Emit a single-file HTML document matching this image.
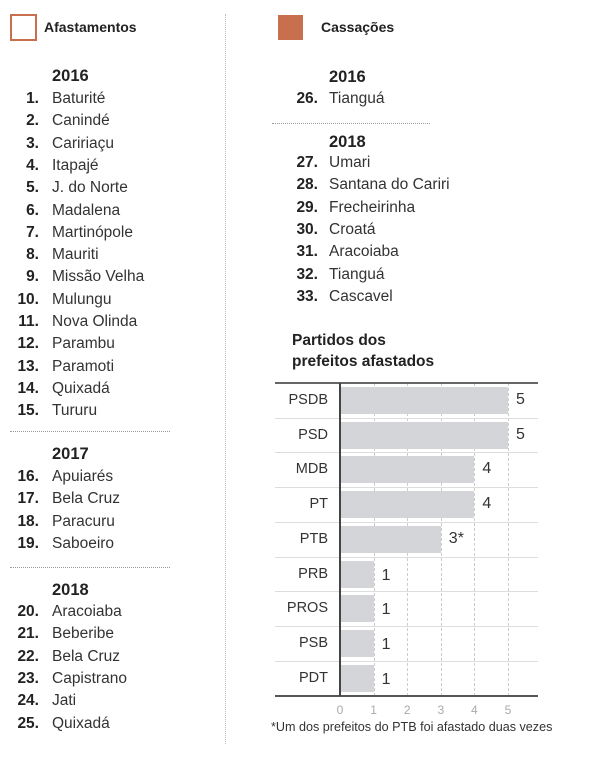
<!DOCTYPE html>
<html><head><meta charset="utf-8"><style>
*{margin:0;padding:0;box-sizing:border-box}
body{width:600px;height:758px;background:#fff;position:relative;font-family:"Liberation Sans",sans-serif;color:#222;overflow:hidden}
.a{position:absolute;white-space:nowrap}
.row{position:absolute;height:22px;line-height:22px;font-size:15.5px;white-space:nowrap;color:#333}
.row b{position:absolute;right:0;text-align:right;font-weight:bold;color:#222}
.yr{position:absolute;font-weight:bold;font-size:16.5px;line-height:20px}
.sep{position:absolute;border-top:1px dotted #999;height:0}
.lbl{position:absolute;font-size:14.5px;color:#333;text-align:right;width:60px}
.bar{position:absolute;background:#d3d5d8;height:27px}
.val{position:absolute;font-size:16px;color:#333}
.tk{position:absolute;font-size:12px;line-height:14px;color:#aaa;width:20px;text-align:center;margin-left:-10px}
</style></head><body>
<div class="a" style="left:10px;top:14px;width:27px;height:27px;border:2px solid #c8704e"></div>
<div class="a" style="left:44px;top:19px;font-size:14px;font-weight:bold">Afastamentos</div>
<div class="a" style="left:278px;top:15px;width:25px;height:25px;background:#c8704e"></div>
<div class="a" style="left:321px;top:19px;font-size:14px;font-weight:bold">Cassações</div>
<div class="a" style="left:225px;top:14px;height:730px;border-left:1px dotted #bbb"></div>

<div class="yr" style="left:52px;top:66px">2016</div>
<div class="yr" style="left:52px;top:444px">2017</div>
<div class="yr" style="left:52px;top:580px">2018</div>
<div class="sep" style="left:10px;top:431px;width:160px"></div>
<div class="sep" style="left:10px;top:567px;width:160px"></div>

<div class="yr" style="left:329px;top:67px">2016</div>
<div class="yr" style="left:329px;top:132px">2018</div>
<div class="sep" style="left:272px;top:123px;width:158px"></div>

<div id="L"></div>
<script>
(function(){
function add(items,x0,y0,nr){var h='';items.forEach(function(t,i){var y=y0+i*22.3-11;h+='<div class="row" style="left:0;top:'+y+'px;width:'+x0+'px"><b>'+t[0]+'.</b></div><div class="row" style="left:'+nr+'px;top:'+y+'px">'+t[1]+'</div>'});return h;}
var h='';
h+=add([[1,'Baturité'],[2,'Canindé'],[3,'Caririaçu'],[4,'Itapajé'],[5,'J. do Norte'],[6,'Madalena'],[7,'Martinópole'],[8,'Mauriti'],[9,'Missão Velha'],[10,'Mulungu'],[11,'Nova Olinda'],[12,'Parambu'],[13,'Paramoti'],[14,'Quixadá'],[15,'Tururu']],39,99,52);
h+=add([[16,'Apuiarés'],[17,'Bela Cruz'],[18,'Paracuru'],[19,'Saboeiro']],39,477,52);
h+=add([[20,'Aracoiaba'],[21,'Beberibe'],[22,'Bela Cruz'],[23,'Capistrano'],[24,'Jati'],[25,'Quixadá']],39,612,52);
h+=add([[26,'Tianguá']],318,99,329);
h+=add([[27,'Umari'],[28,'Santana do Cariri'],[29,'Frecheirinha'],[30,'Croatá'],[31,'Aracoiaba'],[32,'Tianguá'],[33,'Cascavel']],318,163,329);
var P=[['PSDB',5,'5'],['PSD',5,'5'],['MDB',4,'4'],['PT',4,'4'],['PTB',3,'3*'],['PRB',1,'1'],['PROS',1,'1'],['PSB',1,'1'],['PDT',1,'1']];
var x0=341,u=33.6,T=383,rh=34.7;
for(var k=1;k<=5;k++){h+='<div class="a" style="left:'+(x0+k*u-1)+'px;top:'+T+'px;height:313px;border-left:1px dashed #ccc"></div>';h+='<div class="tk" style="left:'+(x0+k*u-1)+'px;top:703px">'+k+'</div>';}
h+='<div class="tk" style="left:'+(x0-1)+'px;top:703px">0</div>';
P.forEach(function(p,i){var y=T+i*rh;if(i>0)h+='<div class="a" style="left:275px;top:'+y+'px;width:263px;border-top:1px solid #ddd"></div>';
h+='<div class="lbl" style="left:268px;top:'+(y+9)+'px">'+p[0]+'</div>';
h+='<div class="bar" style="left:'+x0+'px;top:'+(y+4)+'px;width:'+(p[1]*u-1)+'px"></div>';
h+='<div class="val" style="left:'+(x0+p[1]*u+7)+'px;top:'+(y+(p[1]==1?10:8))+'px">'+p[2]+'</div>';});
h+='<div class="a" style="left:275px;top:'+(T-1)+'px;width:263px;border-top:2px solid #666"></div>';
h+='<div class="a" style="left:275px;top:695px;width:263px;border-top:2px solid #555"></div>';
h+='<div class="a" style="left:339px;top:'+T+'px;height:313px;border-left:2px solid #444"></div>';
document.getElementById('L').innerHTML=h;
})();
</script>
<div class="a" style="left:292px;top:330px;font-size:15.5px;font-weight:bold;line-height:21px">Partidos dos<br>prefeitos afastados</div>
<div class="a" style="left:271px;top:720px;font-size:12.6px;line-height:14px;color:#333">*Um dos prefeitos do PTB foi afastado duas vezes</div>
</body></html>
